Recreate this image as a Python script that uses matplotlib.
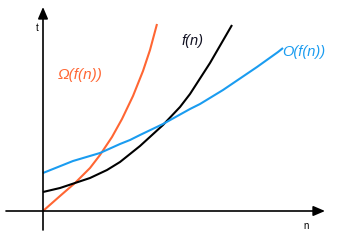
import matplotlib
matplotlib.use("Agg")
import matplotlib.pyplot as plt

# curves (n, t), origin at the axes crossing
omega_n = [0, 17, 32, 47, 57, 69, 79, 90, 100, 107, 114]
omega_t = [0, 15, 28, 43, 56, 74, 92, 115, 140, 161, 187]

f_n = [0, 17, 32, 47, 64, 77, 87, 97, 120, 137, 147, 167, 189]
f_t = [19, 23, 28, 33, 41, 49, 57, 65, 86, 104, 117, 148, 186]

o_n = [0, 30, 57, 77, 87, 97, 120, 147, 157, 180, 214, 235, 240]
o_t = [38, 50, 58, 67, 71, 76, 87, 102, 107, 121, 144, 159, 163]

labels = ["\u03a9(f(n))", "f(n)", "O(f(n))"]
orange = "#ff6633"
blue = "#1a9cf0"

fig = plt.figure(figsize=(3.5, 2.43), dpi=100)
ax = fig.add_axes([0, 0, 1, 1])
ax.set_xlim(-43, 307)
ax.set_ylim(-32, 211)
ax.axis("off")

# axes with arrows
arrow = dict(arrowstyle="-|>,head_length=0.7,head_width=0.3", color="black",
             lw=1.2, shrinkA=0, shrinkB=0)
ax.annotate("", xy=(282, 0), xytext=(-37, 0), arrowprops=arrow)
ax.annotate("", xy=(0, 204), xytext=(0, -19), arrowprops=arrow)
ax.text(-6, 183, "t", fontsize=7, family="Liberation Sans", ha="center", va="center")
ax.text(263, -15, "n", fontsize=7, family="Liberation Sans", ha="center", va="center")

ax.plot(omega_n, omega_t, color=orange, lw=1.5, solid_capstyle="butt")
ax.plot(f_n, f_t, color="black", lw=1.5, solid_capstyle="butt")
ax.plot(o_n, o_t, color=blue, lw=1.5, solid_capstyle="butt")

font = dict(family="Liberation Sans", style="italic", fontsize=11)
ax.text(37, 136, labels[0], color=orange, ha="center", va="center", **font)
ax.text(139, 170, labels[1], color="#111122", ha="left", va="center", fontsize=10.5,
        family="Liberation Sans", style="italic")
ax.text(239, 159, labels[2], color=blue, ha="left", va="center", fontsize=10.5,
        family="Liberation Sans", style="italic")

fig.savefig("out.png", dpi=100)
